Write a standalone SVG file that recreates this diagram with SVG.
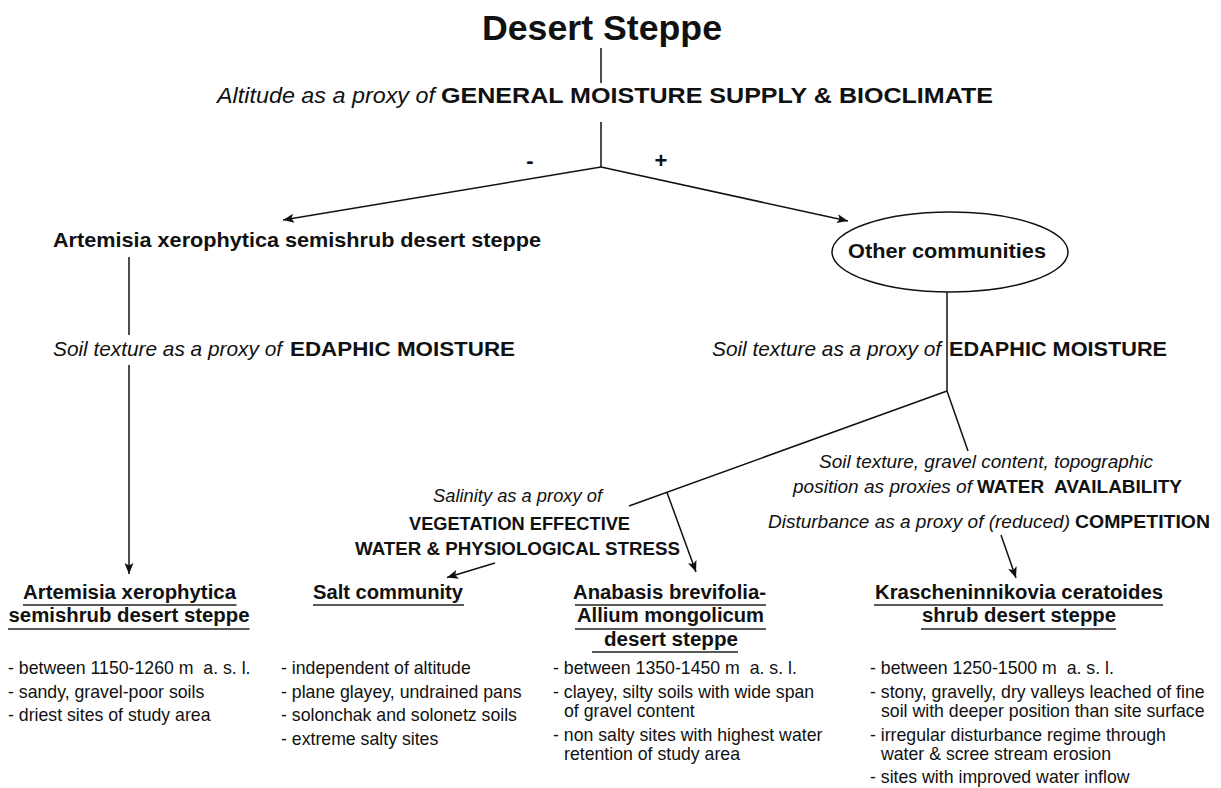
<svg xmlns="http://www.w3.org/2000/svg" width="1221" height="788" viewBox="0 0 1221 788">
<defs>
<style>
text{font-family:"Liberation Sans",Arial,Helvetica,sans-serif;fill:#111}
.b{font-weight:bold}
.i{font-style:italic}
.t{font-size:35px;font-weight:bold}
.alt{font-size:22.5px}
.ed{font-size:21px}
.rb{font-size:19px}
.lb{font-size:18.5px}
.h1{font-size:21px;font-weight:bold}
.hd{font-size:20.3px;font-weight:bold}
.bl{font-size:17.7px;white-space:pre}
.pm{font-size:22px;font-weight:bold}
.c{stroke:#111;stroke-width:1.5;fill:none}
.u{stroke:#222;stroke-width:1.6}
</style>
<marker id="ah" markerUnits="userSpaceOnUse" markerWidth="12" markerHeight="9" refX="11" refY="4.5" orient="auto">
<path d="M0,0 L11,4.5 L0,9 L2.5,4.5 z" fill="#111"/>
</marker>
</defs>
<rect width="1221" height="788" fill="#fff"/>

<g id="connectors">
<line class="c" x1="601" y1="48" x2="601" y2="83"/>
<line class="c" x1="601" y1="122" x2="601" y2="167"/>
<line class="c" x1="601" y1="167" x2="283" y2="220" marker-end="url(#ah)"/>
<line class="c" x1="601" y1="167" x2="848" y2="221" marker-end="url(#ah)"/>
<line class="c" x1="129" y1="257" x2="129" y2="335"/>
<line class="c" x1="129" y1="365" x2="129" y2="574" marker-end="url(#ah)"/>
<line class="c" x1="947" y1="292" x2="947" y2="391"/>
<line class="c" x1="947" y1="391" x2="629" y2="506"/>
<line class="c" x1="947" y1="391" x2="968" y2="451"/>
<line class="c" x1="667" y1="492.5" x2="696" y2="572" marker-end="url(#ah)"/>
<line class="c" x1="495" y1="563" x2="447" y2="577.5" marker-end="url(#ah)"/>
<line class="c" x1="1001" y1="535" x2="1016" y2="578" marker-end="url(#ah)"/>
</g>

<g id="n-title">
<text class="t" x="602" y="40" text-anchor="middle" textLength="240" lengthAdjust="spacingAndGlyphs">Desert Steppe</text>
</g>

<g id="n-altitude">
<text class="alt i" x="217" y="103" textLength="218" lengthAdjust="spacingAndGlyphs">Altitude as a proxy of</text>
<text class="alt b" x="441" y="103" textLength="552" lengthAdjust="spacingAndGlyphs">GENERAL MOISTURE SUPPLY &amp; BIOCLIMATE</text>
</g>

<g id="n-minus"><text class="pm" x="530" y="168" text-anchor="middle">-</text></g>
<g id="n-plus"><text class="pm" x="661" y="168" text-anchor="middle">+</text></g>

<g id="n-artemisia-top">
<text class="h1" x="53" y="247" textLength="488" lengthAdjust="spacingAndGlyphs">Artemisia xerophytica semishrub desert steppe</text>
</g>

<g id="n-other">
<ellipse class="c" cx="950" cy="252" rx="118" ry="40"/>
<text class="b" style="font-size:20.5px" x="848" y="258" textLength="198" lengthAdjust="spacingAndGlyphs">Other communities</text>
</g>

<g id="n-edaphic-left">
<text class="ed i" x="53" y="356" textLength="229" lengthAdjust="spacingAndGlyphs">Soil texture as a proxy of</text>
<text class="ed b" x="290" y="356" textLength="225" lengthAdjust="spacingAndGlyphs">EDAPHIC MOISTURE</text>
</g>

<g id="n-edaphic-right">
<text class="ed i" x="712" y="356" textLength="229" lengthAdjust="spacingAndGlyphs">Soil texture as a proxy of</text>
<text class="ed b" x="949" y="356" textLength="218" lengthAdjust="spacingAndGlyphs">EDAPHIC MOISTURE</text>
</g>

<g id="n-salinity">
<text class="lb i" style="font-size:19px" x="433" y="502" textLength="169" lengthAdjust="spacingAndGlyphs">Salinity as a proxy of</text>
<text class="lb b" x="409" y="530" textLength="221" lengthAdjust="spacingAndGlyphs">VEGETATION EFFECTIVE</text>
<text class="lb b" x="355" y="555" textLength="325" lengthAdjust="spacingAndGlyphs">WATER &amp; PHYSIOLOGICAL STRESS</text>
</g>

<g id="n-water">
<text class="rb i" x="819" y="468" textLength="334" lengthAdjust="spacingAndGlyphs">Soil texture, gravel content, topographic</text>
<text class="rb i" x="793" y="493" textLength="179" lengthAdjust="spacingAndGlyphs">position as proxies of</text>
<text class="rb b" x="977" y="493" style="white-space:pre" textLength="205" lengthAdjust="spacingAndGlyphs">WATER  AVAILABILITY</text>
</g>

<g id="n-disturbance">
<text class="rb i" x="768" y="528" textLength="302" lengthAdjust="spacingAndGlyphs">Disturbance as a proxy of (reduced)</text>
<text class="rb b" x="1075" y="528" textLength="135" lengthAdjust="spacingAndGlyphs">COMPETITION</text>
</g>

<g id="n-artemisia">
<text class="hd" x="129.5" y="599" text-anchor="middle" textLength="213" lengthAdjust="spacingAndGlyphs">Artemisia xerophytica</text>
<text class="hd" x="129" y="622" text-anchor="middle" textLength="241" lengthAdjust="spacingAndGlyphs">semishrub desert steppe</text>
<line class="u" x1="23" y1="605" x2="236.5" y2="605"/>
<line class="u" x1="8" y1="629" x2="249.5" y2="629"/>
<text class="bl" x="8" y="674">- between 1150-1260 m  a. s. l.</text>
<text class="bl" x="8" y="697.5">- sandy, gravel-poor soils</text>
<text class="bl" x="8" y="721">- driest sites of study area</text>
</g>

<g id="n-salt">
<text class="hd" x="388" y="599" text-anchor="middle" textLength="150" lengthAdjust="spacingAndGlyphs">Salt community</text>
<line class="u" x1="313" y1="605" x2="464" y2="605"/>
<text class="bl" x="281" y="674">- independent of altitude</text>
<text class="bl" x="281" y="697.5">- plane glayey, undrained pans</text>
<text class="bl" x="281" y="721">- solonchak and solonetz soils</text>
<text class="bl" x="281" y="744.5">- extreme salty sites</text>
</g>

<g id="n-anabasis">
<text class="hd" x="669.5" y="599" text-anchor="middle" textLength="193" lengthAdjust="spacingAndGlyphs">Anabasis brevifolia-</text>
<text class="hd" x="670.5" y="622" text-anchor="middle" textLength="187" lengthAdjust="spacingAndGlyphs">Allium mongolicum</text>
<text class="hd" x="671" y="645.5" text-anchor="middle" textLength="134" lengthAdjust="spacingAndGlyphs">desert steppe</text>
<line class="u" x1="575" y1="605" x2="766" y2="605"/>
<line class="u" x1="575" y1="629" x2="766" y2="629"/>
<line class="u" x1="592" y1="652" x2="738" y2="652"/>
<text class="bl" x="553" y="674">- between 1350-1450 m  a. s. l.</text>
<text class="bl" x="553" y="698">- clayey, silty soils with wide span</text>
<text class="bl" x="564" y="717">of gravel content</text>
<text class="bl" x="553" y="741">- non salty sites with highest water</text>
<text class="bl" x="564" y="760">retention of study area</text>
</g>

<g id="n-kraschen">
<text class="hd" x="1019" y="599" text-anchor="middle" textLength="288" lengthAdjust="spacingAndGlyphs">Krascheninnikovia ceratoides</text>
<text class="hd" x="1019" y="622" text-anchor="middle" textLength="194" lengthAdjust="spacingAndGlyphs">shrub desert steppe</text>
<line class="u" x1="874" y1="605" x2="1163" y2="605"/>
<line class="u" x1="921" y1="629" x2="1116" y2="629"/>
<text class="bl" x="870" y="674">- between 1250-1500 m  a. s. l.</text>
<text class="bl" x="870" y="698">- stony, gravelly, dry valleys leached of fine</text>
<text class="bl" x="881" y="717">soil with deeper position than site surface</text>
<text class="bl" x="870" y="741">- irregular disturbance regime through</text>
<text class="bl" x="881" y="760">water &amp; scree stream erosion</text>
<text class="bl" x="870" y="783">- sites with improved water inflow</text>
</g>
</svg>
